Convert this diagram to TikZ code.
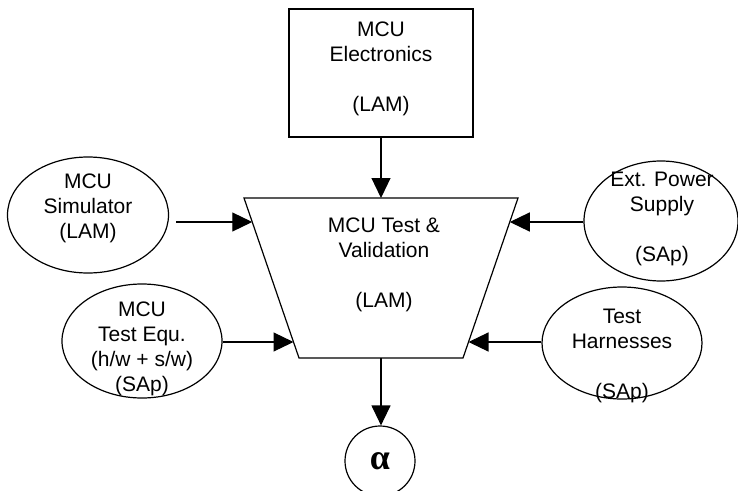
\documentclass[tikz,border=0pt]{standalone}
\usepackage{fontspec}
\setmainfont{Liberation Sans}
\newfontfamily\greekfont{Liberation Serif}
\usetikzlibrary{arrows.meta,shapes.geometric,calc}

\begin{document}
\begin{tikzpicture}[x=1pt,y=-1pt,
    line width=1.2pt,
    arr/.style={-{Triangle[length=20pt,width=19pt]}},
    oval/.style={draw,ellipse,inner sep=0pt},
    txt/.style={align=center,inner sep=0pt,font=\fontsize{21}{25}\selectfont}]
            \useasboundingbox (0,0) rectangle (738,490);
            % top box
            \node[draw,rectangle,minimum width=184pt,minimum height=128pt] (elec) at (381,73) {};
            \node[txt] (electxt) at (381,69) {MCU\\Electronics\\\mbox{}\\(LAM)};
            % trapezoid
            \coordinate (tl) at (244,198);
            \coordinate (tr) at (518,198);
            \coordinate (br) at (463,358);
            \coordinate (bl) at (299,358);
            \draw (tl) -- (tr) -- (br) -- (bl) -- cycle;
            \node[txt] (testtxt) at (384,265) {MCU Test \&\\Validation\\\mbox{}\\(LAM)};
            % ovals
            \node[oval,minimum width=161pt,minimum height=116pt] (sim) at (88,215) {};
            \node[txt] (simtxt) at (88,208) {MCU\\Simulator\\(LAM)};
            \node[oval,minimum width=160pt,minimum height=114pt] (equ) at (142,341) {};
            \node[txt] (equtxt) at (142,349) {MCU\\Test Equ.\\(h/w + s/w)\\(SAp)};
            \node[oval,minimum width=154pt,minimum height=120pt] (pwr) at (661,221) {};
            \node[txt] (pwrtxt) at (662,219) {Ext. Power\\Supply\\\mbox{}\\(SAp)};
            \node[oval,minimum width=160pt,minimum height=112pt] (harn) at (622,343) {};
            \node[txt] (harntxt) at (622,356) {Test\\Harnesses\\\mbox{}\\(SAp)};
            \node[draw,circle,minimum size=70pt,inner sep=0pt,font=\greekfont\bfseries\fontsize{36}{36}\selectfont] (alpha) at (380,461) {α};
            % arrows
            \coordinate (top) at ($(tl)!0.5!(tr)$);
            \coordinate (bot) at ($(bl)!0.5!(br)$);
            \coordinate (inL1) at ($(tl)!0.15!(bl)$);
            \coordinate (inL2) at ($(tl)!0.9!(bl)$);
            \coordinate (inR1) at ($(tr)!0.15!(br)$);
            \coordinate (inR2) at ($(tr)!0.9!(br)$);
            \draw[arr] (elec.south) -- (top);
            \draw[arr,shorten <=7pt] (sim.east |- inL1) -- (inL1);
            \draw[arr] (equ.east |- inL2) -- (inL2);
            \draw[arr] (pwr.west |- inR1) -- (inR1);
            \draw[arr] (harn.west |- inR2) -- (inR2);
            \draw[arr] (bot) -- (bot |- alpha.north);
        \end{tikzpicture}
\end{document}
